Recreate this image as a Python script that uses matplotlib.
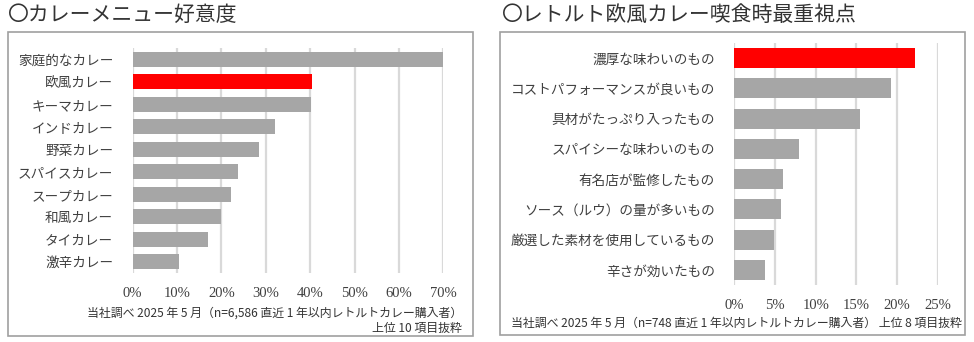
import matplotlib
matplotlib.use("Agg")
import matplotlib.pyplot as plt
from matplotlib.patches import Rectangle

plt.rcParams['font.family'] = ['Noto Sans CJK JP', 'DejaVu Sans']

# カレーメニュー好意度（上位10項目）
menu_labels = ["家庭的なカレー", "欧風カレー", "キーマカレー", "インドカレー", "野菜カレー",
               "スパイスカレー", "スープカレー", "和風カレー", "タイカレー", "激辛カレー"]
menu_values = [70.1, 40.3, 40.1, 32.0, 28.4, 23.7, 22.1, 20.0, 17.0, 10.4]
menu_ticks = [0, 10, 20, 30, 40, 50, 60, 70]

# レトルト欧風カレー喫食時最重視点（上位8項目）
point_labels = ["濃厚な味わいのもの", "コストパフォーマンスが良いもの", "具材がたっぷり入ったもの",
                "スパイシーな味わいのもの", "有名店が監修したもの", "ソース（ルウ）の量が多いもの",
                "厳選した素材を使用しているもの", "辛さが効いたもの"]
point_values = [22.2, 19.3, 15.5, 8.0, 6.0, 5.8, 4.9, 3.8]
point_ticks = [0, 5, 10, 15, 20, 25]

W, H = 974, 342
GREY = "#A6A6A6"
RED = "#FF0000"

fig = plt.figure(figsize=(W / 100, H / 100), dpi=100)
fig.patch.set_facecolor("white")


def px_axes(x0, y0, x1, y1):
    # 画素座標（左上原点）で軸を配置
    return fig.add_axes([x0 / W, 1 - y1 / H, (x1 - x0) / W, (y1 - y0) / H])


def frame(x0, y0, x1, y1):
    fig.patches.append(Rectangle((x0 / W, 1 - y1 / H), (x1 - x0) / W, (y1 - y0) / H,
                                 transform=fig.transFigure, fill=False,
                                 edgecolor="#A0A0A0", linewidth=1.2))


def bar_panel(ax, labels, values, ticks, highlight):
    n = len(labels)
    colors = [RED if i == highlight else GREY for i in range(n)]
    ax.barh(range(n), values, height=0.66, color=colors, zorder=3)
    ax.set_ylim(n - 0.5, -0.5)
    ax.set_xlim(ticks[0], ticks[-1])
    ax.set_xticks(ticks)
    ax.set_xticklabels([f"{t}%" for t in ticks], fontsize=10.5,
                       family=['Liberation Serif', 'DejaVu Serif'], color="#404040")
    ax.set_yticks(range(n))
    ax.set_yticklabels(labels, fontsize=9.8, color="#404040")
    ax.tick_params(length=0, axis="y", pad=14)
    ax.tick_params(length=0, axis="x", pad=10)
    for t in ticks:
        ax.axvline(t, color="#D9D9D9", linewidth=1.6, zorder=1)
    for s in ax.spines.values():
        s.set_visible(False)


# 左パネル
frame(8, 32, 473, 336)
fig.text(8 / W, 1 - 15 / H, "〇カレーメニュー好意度", fontsize=15, va="center", ha="left",
         color="#333333")
ax1 = px_axes(132.7, 48, 443.3, 273)
bar_panel(ax1, menu_labels, menu_values, menu_ticks, highlight=1)
fig.text(462 / W, 1 - 313 / H, "当社調べ 2025 年 5 月（n=6,586 直近 1 年以内レトルトカレー購入者）",
         fontsize=8.6, ha="right", va="center", color="#333333")
fig.text(462 / W, 1 - 328 / H, "上位 10 項目抜粋",
         fontsize=8.6, ha="right", va="center", color="#333333")

# 右パネル
frame(500, 32, 965, 335)
fig.text(502 / W, 1 - 15 / H, "〇レトルト欧風カレー喫食時最重視点", fontsize=15, va="center",
         ha="left", color="#333333")
ax2 = px_axes(734.3, 43, 937.7, 285)
bar_panel(ax2, point_labels, point_values, point_ticks, highlight=0)
fig.text(962 / W, 1 - 323 / H,
         "当社調べ 2025 年 5 月（n=748 直近 1 年以内レトルトカレー購入者） 上位 8 項目抜粋",
         fontsize=8.6, ha="right", va="center", color="#333333")

fig.savefig("out.png", dpi=100, facecolor="white")
